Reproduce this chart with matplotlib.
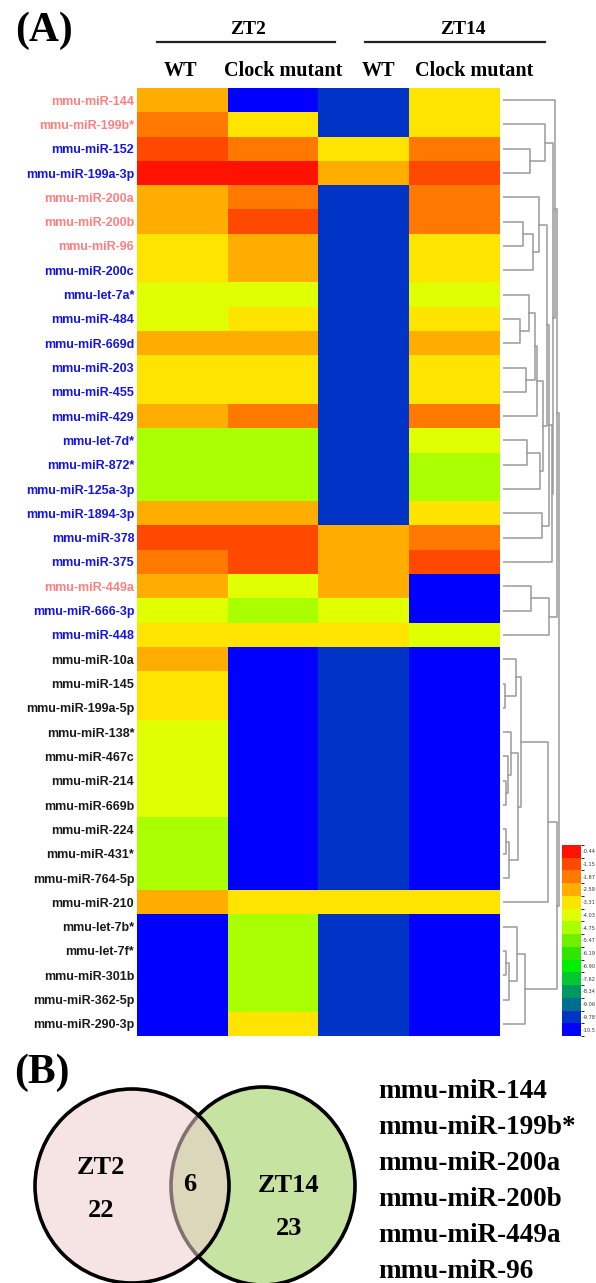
import numpy as np
import matplotlib.pyplot as plt
from matplotlib.colors import ListedColormap, BoundaryNorm
from matplotlib.patches import Ellipse
from matplotlib.lines import Line2D

W, H = 596, 1283

# ---- data -------------------------------------------------------------
mirnas = ['mmu-miR-144', 'mmu-miR-199b*', 'mmu-miR-152', 'mmu-miR-199a-3p',
          'mmu-miR-200a', 'mmu-miR-200b', 'mmu-miR-96', 'mmu-miR-200c',
          'mmu-let-7a*', 'mmu-miR-484', 'mmu-miR-669d', 'mmu-miR-203',
          'mmu-miR-455', 'mmu-miR-429', 'mmu-let-7d*', 'mmu-miR-872*',
          'mmu-miR-125a-3p', 'mmu-miR-1894-3p', 'mmu-miR-378', 'mmu-miR-375',
          'mmu-miR-449a', 'mmu-miR-666-3p', 'mmu-miR-448', 'mmu-miR-10a',
          'mmu-miR-145', 'mmu-miR-199a-5p', 'mmu-miR-138*', 'mmu-miR-467c',
          'mmu-miR-214', 'mmu-miR-669b', 'mmu-miR-224', 'mmu-miR-431*',
          'mmu-miR-764-5p', 'mmu-miR-210', 'mmu-let-7b*', 'mmu-let-7f*',
          'mmu-miR-301b', 'mmu-miR-362-5p', 'mmu-miR-290-3p']

label_group = ['shared', 'shared', 'blue', 'blue', 'shared', 'shared', 'shared',
               'blue', 'blue', 'blue', 'blue', 'blue', 'blue', 'blue', 'blue',
               'blue', 'blue', 'blue', 'blue', 'blue', 'shared', 'blue', 'blue',
               'black', 'black', 'black', 'black', 'black', 'black', 'black',
               'black', 'black', 'black', 'black', 'black', 'black', 'black',
               'black', 'black']

time_points = ['ZT2', 'ZT14']
conditions = ['WT', 'Clock mutant', 'WT', 'Clock mutant']

# columns: ZT2 WT, ZT2 Clock, ZT14 WT, ZT14 Clock
expr = [
    [-2.59, -10.5, -9.78, -3.31],
    [-1.87, -3.31, -9.78, -3.31],
    [-1.15, -1.87, -3.31, -1.87],
    [-0.44, -0.44, -2.59, -1.15],
    [-2.59, -1.87, -9.78, -1.87],
    [-2.59, -1.15, -9.78, -1.87],
    [-3.31, -2.59, -9.78, -3.31],
    [-3.31, -2.59, -9.78, -3.31],
    [-4.03, -4.03, -9.78, -4.03],
    [-4.03, -3.31, -9.78, -3.31],
    [-2.59, -2.59, -9.78, -2.59],
    [-3.31, -3.31, -9.78, -3.31],
    [-3.31, -3.31, -9.78, -3.31],
    [-2.59, -1.87, -9.78, -1.87],
    [-4.75, -4.75, -9.78, -4.03],
    [-4.75, -4.75, -9.78, -4.75],
    [-4.75, -4.75, -9.78, -4.75],
    [-2.59, -2.59, -9.78, -3.31],
    [-1.15, -1.15, -2.59, -1.87],
    [-1.87, -1.15, -2.59, -1.15],
    [-2.59, -4.03, -2.59, -10.5],
    [-4.03, -4.75, -4.03, -10.5],
    [-3.31, -3.31, -3.31, -4.03],
    [-2.59, -10.5, -9.78, -10.5],
    [-3.31, -10.5, -9.78, -10.5],
    [-3.31, -10.5, -9.78, -10.5],
    [-4.03, -10.5, -9.78, -10.5],
    [-4.03, -10.5, -9.78, -10.5],
    [-4.03, -10.5, -9.78, -10.5],
    [-4.03, -10.5, -9.78, -10.5],
    [-4.75, -10.5, -9.78, -10.5],
    [-4.75, -10.5, -9.78, -10.5],
    [-4.75, -10.5, -9.78, -10.5],
    [-2.59, -3.31, -3.31, -3.31],
    [-10.5, -4.75, -9.78, -10.5],
    [-10.5, -4.75, -9.78, -10.5],
    [-10.5, -4.75, -9.78, -10.5],
    [-10.5, -4.75, -9.78, -10.5],
    [-10.5, -3.31, -9.78, -10.5],
]

levels = [-0.44, -1.15, -1.87, -2.59, -3.31, -4.03, -4.75, -5.47, -6.19,
          -6.90, -7.62, -8.34, -9.06, -9.78, -10.5]
level_labels = ['-0.44', '-1.15', '-1.87', '-2.59', '-3.31', '-4.03', '-4.75',
                '-5.47', '-6.19', '-6.90', '-7.62', '-8.34', '-9.06', '-9.78',
                '-10.5']
level_colors = ['#ff1200', '#ff4800', '#ff7800', '#ffae00', '#ffe400',
                '#e0ff00', '#aaff00', '#6ef000', '#30e600', '#00ee00',
                '#00c830', '#009860', '#006e90', '#0034c6', '#0000ff']

# dendrogram merges: (node a, node b, height); new nodes numbered from 39
merges = [(2, 3, 27), (1, 39, 42), (5, 6, 20), (41, 7, 30), (4, 42, 36),
          (9, 10, 17), (8, 44, 26), (11, 12, 23), (45, 46, 32), (47, 13, 34),
          (14, 15, 24), (49, 16, 37), (48, 50, 40), (43, 51, 44), (17, 18, 39),
          (52, 53, 46), (54, 19, 49), (40, 55, 50), (0, 56, 52), (20, 21, 28),
          (58, 22, 46), (57, 59, 54), (24, 25, 2), (23, 61, 13), (28, 29, 3),
          (27, 63, 5), (26, 64, 8), (30, 31, 3), (66, 32, 6), (65, 67, 15),
          (62, 68, 18), (69, 33, 45), (35, 36, 3), (71, 37, 6), (34, 72, 14),
          (73, 38, 22), (70, 74, 54), (60, 75, 56)]

venn_counts = {'ZT2': 22, 'both': 6, 'ZT14': 23}
shared_list = ['mmu-miR-144', 'mmu-miR-199b*', 'mmu-miR-200a', 'mmu-miR-200b',
               'mmu-miR-449a', 'mmu-miR-96']

# ---- layout helpers ---------------------------------------------------
def box(x0, y0, x1, y1):
    return [x0 / W, 1 - y1 / H, (x1 - x0) / W, (y1 - y0) / H]

def fx(x):
    return x / W

def fy(y):
    return 1 - y / H

serif = 'Liberation Serif'
sans = 'Liberation Sans'
group_color = {'shared': '#ff7f7f', 'blue': '#1414e6', 'black': '#1a1a1a'}

fig = plt.figure(figsize=(W / 100, H / 100), dpi=100)

# ---- heatmap ----------------------------------------------------------
n = len(mirnas)
step = levels[0] - levels[1]
edges = np.linspace(levels[-1] - step / 2, levels[0] + step / 2, len(levels) + 1)
cmap = ListedColormap(level_colors[::-1])
norm = BoundaryNorm(edges, cmap.N)

ax = fig.add_axes(box(137, 88, 500, 1036))
im = ax.imshow(np.array(expr), cmap=cmap, norm=norm, aspect='auto',
               interpolation='nearest')
ax.set_xticks([])
ax.set_yticks(range(n))
ax.set_yticklabels(mirnas, fontfamily=sans, fontweight='bold', fontsize=9)
for lab, g in zip(ax.get_yticklabels(), label_group):
    lab.set_color(group_color[g])
ax.tick_params(axis='y', length=0, pad=2)
for s in ax.spines.values():
    s.set_visible(False)

# headers
fig.text(fx(44), fy(31), '(A)', family=serif, weight='bold', fontsize=30,
         ha='center', va='center')
fig.text(fx(248), fy(29), time_points[0], family=serif, weight='bold',
         fontsize=14, ha='center', va='center')
fig.text(fx(463), fy(29), time_points[1], family=serif, weight='bold',
         fontsize=14, ha='center', va='center')
fig.add_artist(Line2D([fx(157), fx(335)], [fy(42), fy(42)], color='#222222',
                      lw=1.6, transform=fig.transFigure))
fig.add_artist(Line2D([fx(365), fx(545)], [fy(42), fy(42)], color='#222222',
                      lw=1.6, transform=fig.transFigure))
for xc, lab in zip([180, 283, 378, 474], conditions):
    fig.text(fx(xc), fy(71), lab, family=serif, weight='bold', fontsize=14.5,
             ha='center', va='center')

# ---- dendrogram -------------------------------------------------------
dax = fig.add_axes(box(503, 88, 562, 1036))
pos = {i: (float(i), 0.0) for i in range(n)}
for k, (a, b, h) in enumerate(merges):
    ya, ha = pos[a]
    yb, hb = pos[b]
    dax.plot([ha, h, h, hb], [ya, ya, yb, yb], color='#9a9a9a', lw=1.1)
    pos[n + k] = ((ya + yb) / 2, h)
dax.set_xlim(0, 59)
dax.set_ylim(n - 0.5, -0.5)
dax.axis('off')

# ---- colorbar ---------------------------------------------------------
cax = fig.add_axes(box(562, 845, 581, 1036))
cb = fig.colorbar(im, cax=cax, ticks=levels)
cb.set_ticklabels(level_labels)
cb.outline.set_visible(False)
cax.tick_params(length=0, labelsize=3.6, pad=1.5, colors='#333333')

# ---- Venn diagram -----------------------------------------------------
fig.text(fx(42), fy(1073), '(B)', family=serif, weight='bold', fontsize=30,
         ha='center', va='center')
vax = fig.add_axes([0, 0, 1, (H - 1040) / H])
vax.set_xlim(0, W)
vax.set_ylim(H, 1040)
vax.axis('off')
vax.add_patch(Ellipse((263, 1186), 184, 198, facecolor='#c6e3a2',
                      edgecolor='black', lw=2.6))
vax.add_patch(Ellipse((132, 1186), 194, 194, facecolor='#efcece', alpha=0.55,
                      edgecolor='none'))
vax.add_patch(Ellipse((132, 1186), 194, 194, facecolor='none',
                      edgecolor='black', lw=2.6))
vfont = dict(family=serif, weight='bold', fontsize=19, ha='center', va='center')
vax.text(101, 1167, 'ZT2', **vfont)
vax.text(101, 1210, str(venn_counts['ZT2']), **vfont)
vax.text(190, 1184, str(venn_counts['both']), **vfont)
vax.text(289, 1185, 'ZT14', **vfont)
vax.text(289, 1228, str(venn_counts['ZT14']), **vfont)
for i, name in enumerate(shared_list):
    vax.text(378, 1091 + i * 36, name, family=serif, weight='bold',
             fontsize=19.5, ha='left', va='center')

fig.savefig('out.png', dpi=100)
